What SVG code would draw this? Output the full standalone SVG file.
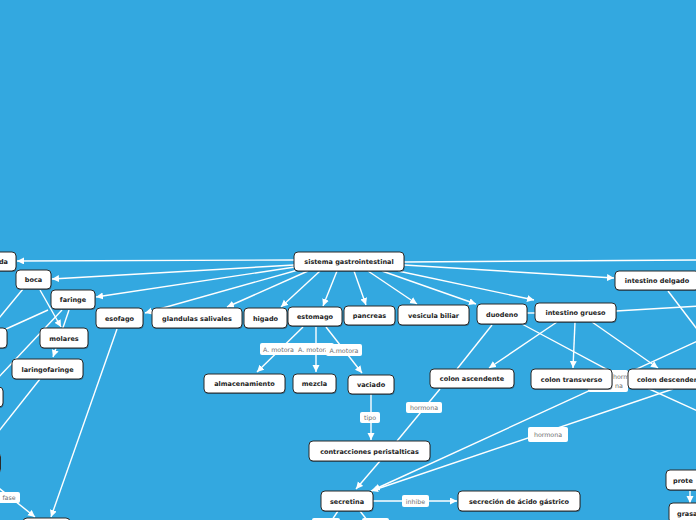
<svg xmlns="http://www.w3.org/2000/svg" width="696" height="520" viewBox="0 0 696 520">
<defs>
<marker id="ar" markerUnits="userSpaceOnUse" markerWidth="8" markerHeight="8" refX="7" refY="3.5" orient="auto"><path d="M0,0 L7,3.5 L0,7 z" fill="#fff"/></marker>
<style>
.c{stroke:#fff;stroke-width:1.4;fill:none}
.a{marker-end:url(#ar)}
.n rect.b{fill:#fff;stroke:#2a2a2a;stroke-width:1}
.n rect.s{fill:#1a3a55;opacity:.55}
.n text{font-family:"DejaVu Sans",Verdana,sans-serif;font-weight:bold;font-size:6.5px;fill:#222;text-anchor:middle}
.l rect{fill:#fff}
.l text{font-family:"DejaVu Sans",Verdana,sans-serif;font-size:6.3px;fill:#6d6d6d;text-anchor:middle}
</style>
</defs>
<rect width="696" height="520" fill="#33a8e0"/>
<g id="connectors">
<line class="c" x1="404" y1="262" x2="700" y2="260"/>
<line class="c a" x1="294" y1="260" x2="17" y2="261"/>
<line class="c a" x1="294" y1="265" x2="52" y2="279"/>
<line class="c a" x1="295" y1="267" x2="96" y2="297"/>
<line class="c a" x1="298" y1="270" x2="145" y2="313"/>
<line class="c a" x1="308" y1="271" x2="227" y2="307"/>
<line class="c a" x1="320" y1="271" x2="281" y2="307"/>
<line class="c a" x1="337" y1="271" x2="323" y2="306"/>
<line class="c a" x1="354" y1="271" x2="366" y2="305"/>
<line class="c a" x1="368" y1="271" x2="417" y2="304"/>
<line class="c a" x1="382" y1="271" x2="476" y2="304"/>
<line class="c a" x1="398" y1="271" x2="534" y2="300"/>
<line class="c a" x1="404" y1="265" x2="614" y2="278"/>
<line class="c" x1="23" y1="289" x2="-5" y2="323"/>
<line class="c a" x1="40" y1="290" x2="61" y2="327"/>
<line class="c" x1="48" y1="310" x2="6" y2="329"/>
<line class="c" x1="62" y1="310" x2="-5" y2="381"/>
<line class="c a" x1="69" y1="310" x2="53" y2="357"/>
<line class="c" x1="40" y1="379" x2="-5" y2="436"/>
<line class="c a" x1="117" y1="329" x2="51" y2="517"/>
<line class="c a" x1="-5" y1="485" x2="35" y2="517"/>
<line class="c a" x1="303" y1="327" x2="257" y2="372"/>
<line class="c a" x1="316" y1="327" x2="316" y2="372"/>
<line class="c a" x1="326" y1="327" x2="362" y2="373"/>
<line class="c a" x1="371" y1="394" x2="371" y2="440"/>
<line class="c" x1="440" y1="389" x2="397" y2="441"/>
<line class="c a" x1="380" y1="461" x2="356" y2="489"/>
<line class="c a" x1="373" y1="501" x2="457" y2="501"/>
<line class="c" x1="338" y1="511" x2="332" y2="520"/>
<line class="c" x1="360" y1="511" x2="367" y2="520"/>
<line class="c" x1="492" y1="325" x2="457" y2="369"/>
<line class="c a" x1="557" y1="322" x2="489" y2="368"/>
<line class="c a" x1="575" y1="322" x2="573" y2="368"/>
<line class="c a" x1="592" y1="322" x2="658" y2="368"/>
<line class="c" x1="527" y1="313" x2="535" y2="313"/>
<line class="c" x1="616" y1="311" x2="700" y2="306"/>
<line class="c" x1="668" y1="291" x2="700" y2="333"/>
<polyline class="c" points="522,324 612,372 700,412"/>
<line class="c a" x1="700" y1="340" x2="373" y2="490"/>
<line class="c a" x1="673" y1="389" x2="371" y2="491"/>
<line class="c a" x1="690" y1="491" x2="690" y2="503"/>
<g class="l"><rect x="-3" y="492" width="23" height="11" rx="2"/><text x="9" y="500">fase</text></g>
<g class="l"><rect x="260" y="343" width="40" height="12" rx="2"/><text x="263" y="351.5" style="text-anchor:start">A. motora</text></g>
<g class="l"><rect x="296" y="343" width="38" height="12" rx="2"/><text x="298" y="351.5" style="text-anchor:start">A. motora</text></g>
<g class="l"><rect x="326" y="344" width="36" height="12" rx="2"/><text x="344" y="352.5">A.motora</text></g>
<g class="l"><rect x="406" y="402" width="36" height="11" rx="2"/><text x="424" y="410">hormona</text></g>
<g class="l"><rect x="360" y="412" width="20" height="11" rx="2"/><text x="370" y="420">tipo</text></g>
<g class="l"><rect x="402" y="495" width="27" height="12" rx="2"/><text x="415.5" y="503.5">inhibe</text></g>
<g class="l"><rect x="528" y="427" width="40" height="15" rx="2"/><text x="548" y="437">hormona</text></g>
<g class="l"><rect x="588" y="370" width="40" height="22" rx="2"/><text x="613" y="379" style="text-anchor:start">hormo</text><text x="615" y="388" style="text-anchor:start">na</text></g>
<g class="l"><rect x="312" y="518" width="28" height="8" rx="2"/></g>
<g class="l"><rect x="362" y="518" width="27" height="8" rx="2"/></g>
</g>
<g id="n-sistema" class="n"><rect class="s" x="294.5" y="253" width="110" height="19" rx="4"/><rect class="b" x="294" y="252" width="110" height="19" rx="4"/><text x="349" y="264">sistema gastrointestinal</text></g>
<g id="n-da" class="n"><rect class="s" x="-39.5" y="253" width="56" height="19" rx="4"/><rect class="b" x="-40" y="252" width="56" height="19" rx="4"/><text x="8" y="264" style="text-anchor:end">da</text></g>
<g id="n-boca" class="n"><rect class="s" x="16.5" y="271" width="35" height="19" rx="4"/><rect class="b" x="16" y="270" width="35" height="19" rx="4"/><text x="33.5" y="282">boca</text></g>
<g id="n-faringe" class="n"><rect class="s" x="51.5" y="291" width="44" height="19" rx="4"/><rect class="b" x="51" y="290" width="44" height="19" rx="4"/><text x="73" y="302">faringe</text></g>
<g id="n-esofago" class="n"><rect class="s" x="96.5" y="309" width="47" height="20" rx="4"/><rect class="b" x="96" y="308" width="47" height="20" rx="4"/><text x="119.5" y="320.5">esofago</text></g>
<g id="n-glandulas" class="n"><rect class="s" x="152.5" y="309" width="90" height="20" rx="4"/><rect class="b" x="152" y="308" width="90" height="20" rx="4"/><text x="197" y="320.5">glandulas salivales</text></g>
<g id="n-higado" class="n"><rect class="s" x="244.5" y="309" width="43" height="20" rx="4"/><rect class="b" x="244" y="308" width="43" height="20" rx="4"/><text x="265.5" y="320.5">higado</text></g>
<g id="n-estomago" class="n"><rect class="s" x="288.5" y="308" width="54" height="19" rx="4"/><rect class="b" x="288" y="307" width="54" height="19" rx="4"/><text x="315" y="319">estomago</text></g>
<g id="n-pancreas" class="n"><rect class="s" x="344.5" y="307" width="51" height="19" rx="4"/><rect class="b" x="344" y="306" width="51" height="19" rx="4"/><text x="369.5" y="318">pancreas</text></g>
<g id="n-vesicula" class="n"><rect class="s" x="398.5" y="306" width="71" height="20" rx="4"/><rect class="b" x="398" y="305" width="71" height="20" rx="4"/><text x="433.5" y="317.5">vesicula biliar</text></g>
<g id="n-duodeno" class="n"><rect class="s" x="477.5" y="305" width="50" height="20" rx="4"/><rect class="b" x="477" y="304" width="50" height="20" rx="4"/><text x="502" y="316.5">duodeno</text></g>
<g id="n-grueso" class="n"><rect class="s" x="535.5" y="304" width="81" height="19" rx="4"/><rect class="b" x="535" y="303" width="81" height="19" rx="4"/><text x="575.5" y="315">intestino grueso</text></g>
<g id="n-delgado" class="n"><rect class="s" x="615.5" y="272" width="84" height="19" rx="4"/><rect class="b" x="615" y="271" width="84" height="19" rx="4"/><text x="657" y="283">intestino delgado</text></g>
<g id="n-left1" class="n"><rect class="s" x="-39.5" y="329" width="47" height="20" rx="4"/><rect class="b" x="-40" y="328" width="47" height="20" rx="4"/></g>
<g id="n-left2" class="n"><rect class="s" x="-39.5" y="388" width="43" height="20" rx="4"/><rect class="b" x="-40" y="387" width="43" height="20" rx="4"/></g>
<g id="n-left3" class="n"><rect class="s" x="-49.5" y="454" width="50" height="20" rx="4"/><rect class="b" x="-50" y="453" width="50.5" height="20" rx="4"/></g>
<g id="n-molares" class="n"><rect class="s" x="40.5" y="329" width="48" height="20" rx="4"/><rect class="b" x="40" y="328" width="48" height="20" rx="4"/><text x="64" y="340.5">molares</text></g>
<g id="n-laringofaringe" class="n"><rect class="s" x="12.5" y="360" width="71" height="20" rx="4"/><rect class="b" x="12" y="359" width="71" height="20" rx="4"/><text x="47.5" y="371.5">laringofaringe</text></g>
<g id="n-bottomleft" class="n"><rect class="s" x="23.5" y="519" width="47" height="20" rx="4"/><rect class="b" x="23" y="518" width="47" height="20" rx="4"/></g>
<g id="n-almacenamiento" class="n"><rect class="s" x="204.5" y="375" width="81" height="19" rx="4"/><rect class="b" x="204" y="374" width="81" height="19" rx="4"/><text x="244.5" y="386">almacenamiento</text></g>
<g id="n-mezcla" class="n"><rect class="s" x="293.5" y="375" width="43" height="19" rx="4"/><rect class="b" x="293" y="374" width="43" height="19" rx="4"/><text x="314.5" y="386">mezcla</text></g>
<g id="n-vaciado" class="n"><rect class="s" x="348.5" y="376" width="46" height="19" rx="4"/><rect class="b" x="348" y="375" width="46" height="19" rx="4"/><text x="371" y="387">vaciado</text></g>
<g id="n-ascendente" class="n"><rect class="s" x="430.5" y="370" width="84" height="19" rx="4"/><rect class="b" x="430" y="369" width="84" height="19" rx="4"/><text x="472" y="381">colon ascendente</text></g>
<g id="n-transverso" class="n"><rect class="s" x="531.5" y="370" width="81" height="20" rx="4"/><rect class="b" x="531" y="369" width="81" height="20" rx="4"/><text x="571.5" y="381.5">colon transverso</text></g>
<g id="n-descendente" class="n"><rect class="s" x="628.5" y="370" width="90" height="20" rx="4"/><rect class="b" x="628" y="369" width="90" height="20" rx="4"/><text x="637" y="381.5" style="text-anchor:start">colon descendente</text></g>
<g id="n-contracciones" class="n"><rect class="s" x="309.5" y="442" width="121" height="20" rx="4"/><rect class="b" x="309" y="441" width="121" height="20" rx="4"/><text x="369.5" y="453.5">contracciones peristalticas</text></g>
<g id="n-secretina" class="n"><rect class="s" x="321.5" y="492" width="52" height="20" rx="4"/><rect class="b" x="321" y="491" width="52" height="20" rx="4"/><text x="347" y="503.5">secretina</text></g>
<g id="n-secrecion" class="n"><rect class="s" x="458.5" y="492" width="122" height="20" rx="4"/><rect class="b" x="458" y="491" width="122" height="20" rx="4"/><text x="519" y="503.5">secreción de ácido gástrico</text></g>
<g id="n-prote" class="n"><rect class="s" x="666.5" y="471" width="50" height="20" rx="4"/><rect class="b" x="666" y="470" width="50" height="20" rx="4"/><text x="673" y="482.5" style="text-anchor:start">prote</text></g>
<g id="n-grasa" class="n"><rect class="s" x="669.5" y="504" width="50" height="20" rx="4"/><rect class="b" x="669" y="503" width="50" height="20" rx="4"/><text x="677" y="515.5" style="text-anchor:start">grasa</text></g>
</svg>
